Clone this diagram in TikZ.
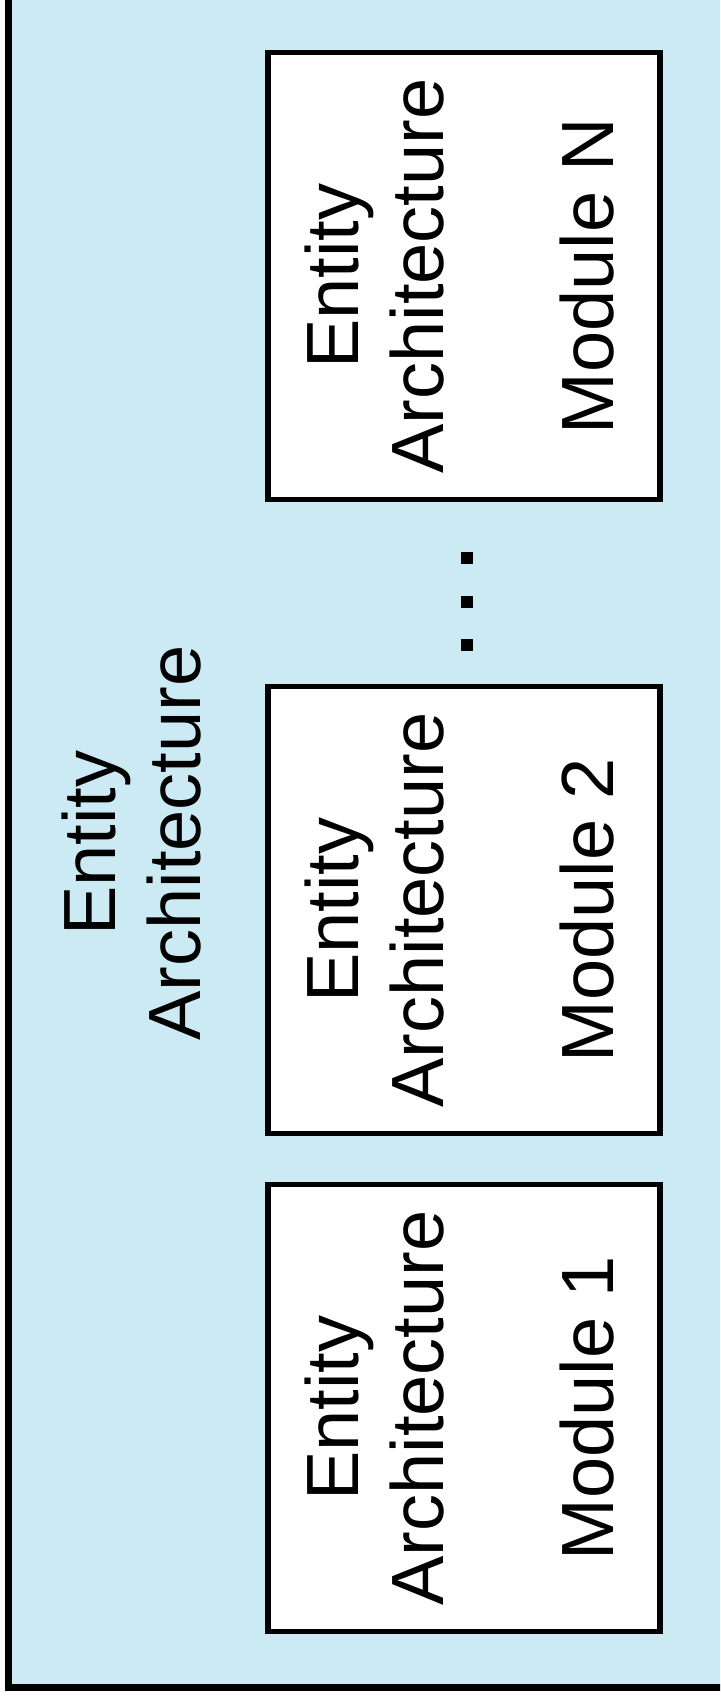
\documentclass[tikz,border=0pt]{standalone}
\usepackage{fontspec}
\setmainfont{Liberation Sans}
\definecolor{panelblue}{RGB}{203,234,243}
\begin{document}
\begin{tikzpicture}[x=1pt,y=1pt,
  modbox/.style={draw=black, line width=5.5pt, fill=white,
    minimum width=392pt, minimum height=447pt, inner sep=0pt},
  vlabel/.style={rotate=90, anchor=base, inner sep=0pt,
    font=\fontsize{74}{85}\selectfont},
  dotsq/.style={fill=black, minimum size=12pt, inner sep=0pt}
]
\useasboundingbox (0,0) rectangle (720,1699);
\clip (0,0) rectangle (720,1699);

% enclosing top-level design unit
\fill[panelblue] (8.5,11) rectangle (740,1720);
\draw[line width=7pt, line join=miter] (8.5,1720) -- (8.5,11) -- (740,11);
\node[vlabel] (topent)  at (115,856) {Entity};
\node[vlabel] (toparch) at (200,856) {Architecture};

% sub-modules
\node[modbox] (m1) at (464,291)  {};
\node[modbox] (m2) at (464,789)  {};
\node[modbox] (mN) at (464,1423) {};

\node[vlabel] (m1ent)  at (358,291) {Entity};
\node[vlabel] (m1arch) at (443,291) {Architecture};
\node[vlabel] (m1name) at (613,291) {Module 1};

\node[vlabel] (m2ent)  at (358,789) {Entity};
\node[vlabel] (m2arch) at (443,789) {Architecture};
\node[vlabel] (m2name) at (613,789) {Module 2};

\node[vlabel] (mNent)  at (358,1423) {Entity};
\node[vlabel] (mNarch) at (443,1423) {Architecture};
\node[vlabel] (mNname) at (613,1423) {Module N};

% vertical ellipsis between module 2 and module N
\node[dotsq] (d1) at (467,1054) {};
\node[dotsq] (d2) at (467,1097) {};
\node[dotsq] (d3) at (467,1141) {};
\end{tikzpicture}
\end{document}
